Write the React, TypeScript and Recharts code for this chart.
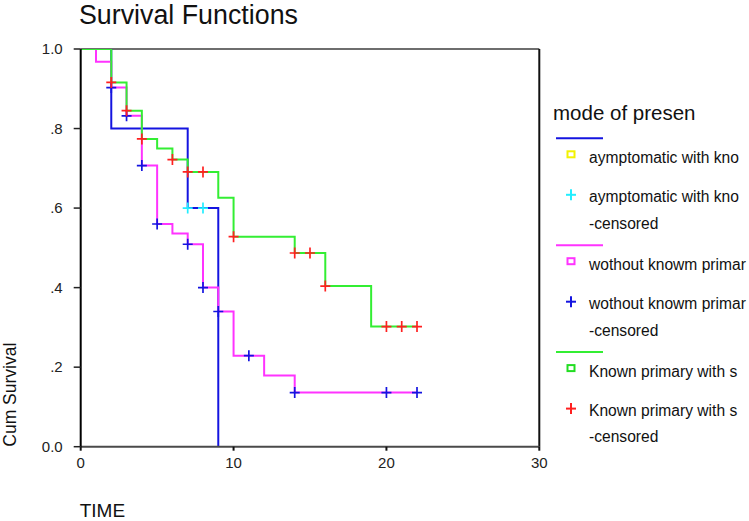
import React from 'react';
import { ComposedChart, Line, Scatter, XAxis, YAxis, ReferenceLine } from 'recharts';

const FONT = '"Liberation Sans", Arial, Helvetica, sans-serif';

const groupNames = ['aymptomatic with kno', 'wothout knowm primar', 'Known primary with s'];
const lineColors = ['#1414e0', '#ff33ff', '#33ee33'];
const squareColors = ['#f2f200', '#ff33ff', '#22dd22'];
const censorColors = ['#22eeff', '#1414e0', '#ff2020'];

const asymTimes = [0, 2, 7, 9];
const asymSurv = [1.0, 0.8, 0.6, 0.0];
const asymCensTimes = [7, 8];
const asymCensSurv = [0.6, 0.6];

const withoutTimes = [0, 1, 2, 3, 4, 5, 6, 7, 8, 9, 10, 12, 14, 22];
const withoutSurv = [1.0, 0.968, 0.903, 0.832, 0.707, 0.56, 0.536, 0.509, 0.4, 0.34, 0.229, 0.179, 0.136, 0.136];
const withoutCensTimes = [2, 3, 4, 5, 7, 8, 9, 11, 14, 20, 22];
const withoutCensSurv = [0.903, 0.832, 0.707, 0.56, 0.509, 0.4, 0.34, 0.229, 0.136, 0.136, 0.136];

const knownTimes = [0, 2, 3, 4, 5, 6, 7, 9, 10, 14, 16, 19, 22];
const knownSurv = [1.0, 0.916, 0.845, 0.774, 0.75, 0.722, 0.691, 0.626, 0.528, 0.487, 0.404, 0.302, 0.302];
const knownCensTimes = [2, 3, 4, 6, 7, 8, 10, 14, 15, 16, 20, 21, 22];
const knownCensSurv = [0.916, 0.845, 0.774, 0.722, 0.691, 0.691, 0.528, 0.487, 0.487, 0.404, 0.302, 0.302, 0.302];

const xTicks = [0, 10, 20, 30];
const yTicks = [0, 0.2, 0.4, 0.6, 0.8, 1.0];
const yTickLabels = ['0.0', '.2', '.4', '.6', '.8', '1.0'];
const xMax = 30;
const yMax = 1.0;

const titleText = 'Survival Functions';
const xTitle = 'TIME';
const yTitle = 'Cum Survival';
const legendTitle = 'mode of presen';
const censoredSuffix = '-censored';

const toPts = (ts: number[], ss: number[]) => ts.map((t, i) => ({ t, s: ss[i] }));

const curves = [toPts(asymTimes, asymSurv), toPts(withoutTimes, withoutSurv), toPts(knownTimes, knownSurv)];
const censored = [
  toPts(asymCensTimes, asymCensSurv),
  toPts(withoutCensTimes, withoutCensSurv),
  toPts(knownCensTimes, knownCensSurv),
];

const plusShape = (color: string) => (props: any) => {
  const { cx, cy } = props;
  if (cx == null || cy == null) return <g />;
  return (
    <g>
      <line x1={cx - 5} x2={cx + 5} y1={cy} y2={cy} stroke={color} strokeWidth={1.7} />
      <line x1={cx} x2={cx} y1={cy - 5.5} y2={cy + 5.5} stroke={color} strokeWidth={1.7} />
    </g>
  );
};

const XTitle = (props: any) => {
  const vb = props.viewBox || { x: 80.7, y: 446.7 };
  return (
    <text x={vb.x - 1} y={vb.y + 70} fontSize={19} fontFamily={FONT} fill="#111">
      {xTitle}
    </text>
  );
};

const YTitle = (props: any) => {
  const vb = props.viewBox || { x: 0, y: 49, height: 397.7 };
  const x = 16;
  const y = vb.y + vb.height;
  return (
    <text
      x={x}
      y={y}
      transform={`rotate(-90, ${x}, ${y})`}
      textAnchor="start"
      fontSize={17.5}
      fontFamily={FONT}
      fill="#111"
    >
      {yTitle}
    </text>
  );
};

const Legend = () => {
  const baseY = 138.3;
  const step = 106.9;
  return (
    <g fontFamily={FONT} fill="#111">
      <text x={553} y={120} fontSize={20.5}>
        {legendTitle}
      </text>
      {groupNames.map((name, g) => {
        const y0 = baseY + g * step;
        const pc = censorColors[g];
        return (
          <g key={name}>
            <line x1={556} x2={603} y1={y0} y2={y0} stroke={lineColors[g]} strokeWidth={2} />
            <rect x={567.5} y={y0 + 13} width={7} height={6} fill="none" stroke={squareColors[g]} strokeWidth={2} />
            <text x={589} y={y0 + 24.5} fontSize={15.6}>
              {name}
            </text>
            <line x1={566} x2={576} y1={y0 + 56.5} y2={y0 + 56.5} stroke={pc} strokeWidth={2} />
            <line x1={571} x2={571} y1={y0 + 51} y2={y0 + 62} stroke={pc} strokeWidth={2} />
            <text x={589} y={y0 + 63.5} fontSize={15.6}>
              {name}
            </text>
            <text x={589} y={y0 + 90.3} fontSize={15.6}>
              {censoredSuffix}
            </text>
          </g>
        );
      })}
    </g>
  );
};

export default function App() {
  return (
    <div style={{ position: 'absolute', left: 0, top: 0, width: 749, height: 521, background: '#ffffff' }}>
      <ComposedChart
        width={749}
        height={521}
        margin={{ top: 49, right: 209.7, bottom: 0, left: 0 }}
        style={{ fontFamily: FONT }}
      >
        <XAxis
          type="number"
          dataKey="t"
          domain={[0, xMax]}
          ticks={xTicks}
          allowDataOverflow
          height={74.3}
          tickSize={4}
          tickMargin={7}
          axisLine={{ stroke: '#4a4a4a', strokeWidth: 2 }}
          tickLine={{ stroke: '#111', strokeWidth: 2 }}
          tick={{ fontSize: 15, fill: '#222', fontFamily: FONT }}
          label={<XTitle />}
        />
        <YAxis
          type="number"
          dataKey="s"
          domain={[0, yMax]}
          ticks={yTicks}
          allowDataOverflow
          width={80.7}
          tickSize={7}
          tickMargin={11}
          tickFormatter={(v: number) => {
            const i = yTicks.findIndex((y) => Math.abs(y - v) < 1e-6);
            return i >= 0 ? yTickLabels[i] : String(v);
          }}
          axisLine={{ stroke: '#000', strokeWidth: 2 }}
          tickLine={{ stroke: '#222', strokeWidth: 1.5 }}
          tick={{ fontSize: 15, fill: '#222', fontFamily: FONT }}
          label={<YTitle />}
        />
        <ReferenceLine y={yMax} stroke="#6e6e6e" strokeWidth={2} ifOverflow="visible" />
        <ReferenceLine x={xMax} stroke="#111" strokeWidth={2} ifOverflow="visible" />
        {curves.map((pts, g) => (
          <Line
            key={'line' + g}
            data={pts}
            dataKey="s"
            name={groupNames[g]}
            type="stepAfter"
            stroke={lineColors[g]}
            strokeWidth={2}
            dot={false}
            activeDot={false}
            isAnimationActive={false}
          />
        ))}
        {censored.map((pts, g) => (
          <Scatter
            key={'cens' + g}
            data={pts}
            dataKey="s"
            name={groupNames[g] + censoredSuffix}
            shape={plusShape(censorColors[g])}
            isAnimationActive={false}
          />
        ))}
      </ComposedChart>
      <svg
        width={749}
        height={521}
        style={{ position: 'absolute', left: 0, top: 0, pointerEvents: 'none' }}
      >
        <text x={79} y={24} fontSize={26.8} fontFamily={FONT} fill="#111">
          {titleText}
        </text>
        <Legend />
      </svg>
    </div>
  );
}
